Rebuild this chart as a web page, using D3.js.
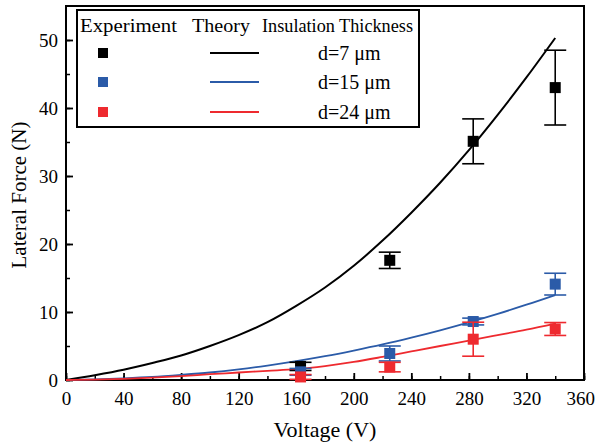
<!DOCTYPE html>
<html><head><meta charset="utf-8">
<script src="https://cdn.jsdelivr.net/npm/d3@7"></script>
<style>body{margin:0;background:#fff}svg{display:block}svg text{font-family:"Liberation Serif","Times New Roman",Times,Tinos,"Noto Serif","DejaVu Serif","FreeSerif",serif !important}</style>
</head><body><svg id="c" width="596" height="444"></svg>
<script>
const voltages = [163, 225, 283, 340];
const expD7 = [2.0, 17.6, 35.1, 43.0];
const errD7 = [0.6, 1.2, 3.3, 5.5];
const expD15 = [1.2, 3.9, 8.6, 14.1];
const errD15 = [0.5, 1.1, 0.5, 1.6];
const expD24 = [0.45, 1.9, 6.0, 7.5];
const errD24 = [0.35, 0.7, 2.5, 0.95];
const theoryV = [0, 20, 40, 60, 80, 100, 120, 140, 160, 180, 200, 220, 240, 260, 280, 300, 320, 340];
const theoryD7 = [0, 0.7, 1.5, 2.5, 3.6, 5.0, 6.6, 8.5, 10.9, 13.6, 16.8, 20.5, 24.6, 29.0, 33.8, 39.0, 44.5, 50.3];
const theoryD15 = [0, 0.1, 0.25, 0.45, 0.75, 1.1, 1.56, 2.12, 2.77, 3.5, 4.33, 5.23, 6.23, 7.31, 8.48, 9.73, 11.07, 12.5];
const theoryD24 = [0, 0.06, 0.18, 0.35, 0.58, 0.85, 1.1, 1.35, 1.6, 2.05, 2.65, 3.4, 4.2, 5.0, 5.8, 6.6, 7.4, 8.3];
const legendLabels = ["d=7 \u03bcm", "d=15 \u03bcm", "d=24 \u03bcm"];
const headers = ["Experiment", "Theory", "Insulation Thickness"];
const xTicks = [0, 40, 80, 120, 160, 200, 240, 280, 320, 360];
const yTicks = [0, 10, 20, 30, 40, 50];
const colors = ["#000000", "#2b5ba8", "#ee2a2f"];

const svg = d3.select("#c");
const L = 66, R = 584, T = 6, B = 380;
const x = d3.scaleLinear().domain([0, 360]).range([L, R]);
const y = d3.scaleLinear().domain([0, 55]).range([B, T]);

// axes ticks (inward)
const gx = svg.append("g").attr("transform", `translate(0,${B})`);
gx.call(d3.axisBottom(x).tickValues(d3.range(0, 361, 20)).tickSize(-4).tickFormat(""));
gx.selectAll(".tick line").attr("stroke-width", 1.5);
gx.select(".domain").remove();
const gx2 = svg.append("g").attr("transform", `translate(0,${B})`);
gx2.call(d3.axisBottom(x).tickValues(xTicks).tickSize(-7).tickPadding(12).tickFormat(d3.format("d")));
gx2.select(".domain").remove();
gx2.selectAll(".tick line").attr("stroke-width", 1.8);
gx2.selectAll("text").attr("font-size", 19).attr("fill", "#000");
gx2.selectAll("text").each(function () {
  const b = this.getBBox();
  const m = this.parentNode.transform.baseVal.consolidate().matrix;
  const right = m.e + b.x + b.width;
  if (right > 595) d3.select(this).attr("dx", 595 - right);
});

const gy = svg.append("g").attr("transform", `translate(${L},0)`);
gy.call(d3.axisLeft(y).tickValues(d3.range(0, 55, 5)).tickSize(-4).tickFormat(""));
gy.select(".domain").remove();
gy.selectAll(".tick line").attr("stroke-width", 1.5);
const gy2 = svg.append("g").attr("transform", `translate(${L},0)`);
gy2.call(d3.axisLeft(y).tickValues(yTicks).tickSize(-7).tickPadding(8).tickFormat(d3.format("d")));
gy2.select(".domain").remove();
gy2.selectAll(".tick line").attr("stroke-width", 1.8);
gy2.selectAll("text").attr("font-size", 19).attr("fill", "#000");

// frame
svg.append("rect").attr("x", L).attr("y", T).attr("width", R - L).attr("height", B - T)
  .attr("fill", "none").attr("stroke", "#000").attr("stroke-width", 2);

// titles
svg.append("text").attr("x", (L + R) / 2).attr("y", 437).attr("text-anchor", "middle")
  .attr("font-size", 22).text("Voltage (V)");
svg.append("text").attr("transform", `translate(26,${(T + B) / 2 + 2}) rotate(-90)`)
  .attr("text-anchor", "middle").attr("font-size", 21).text("Lateral Force (N)");

// theory lines
const line = d3.line().x((d, i) => x(theoryV[i])).y(d => y(d)).curve(d3.curveMonotoneX);
[theoryD7, theoryD15, theoryD24].forEach((s, k) => {
  svg.append("path").attr("d", line(s)).attr("fill", "none")
    .attr("stroke", colors[k]).attr("stroke-width", k === 0 ? 2 : 1.8);
});

// experiments
const series = [[expD7, errD7, 0], [expD15, errD15, 1], [expD24, errD24, 2]];
series.forEach(([vals, errs, k]) => {
  const g = svg.append("g").attr("stroke", colors[k]).attr("fill", colors[k]);
  vals.forEach((v, i) => {
    const cx = x(voltages[i]);
    const y1 = y(v + errs[i]), y2 = y(v - errs[i]);
    g.append("line").attr("x1", cx).attr("x2", cx).attr("y1", y1).attr("y2", y2).attr("stroke-width", 1.6);
    [y1, y2].forEach(yy => g.append("line").attr("x1", cx - 11).attr("x2", cx + 11)
      .attr("y1", yy).attr("y2", yy).attr("stroke-width", 1.6));
    g.append("rect").attr("x", cx - 5.5).attr("y", y(v) - 5.5).attr("width", 11).attr("height", 11).attr("stroke", "none");
  });
});

// legend
const lg = svg.append("g");
lg.append("rect").attr("x", 77).attr("y", 10).attr("width", 342).attr("height", 117)
  .attr("fill", "#fff").attr("stroke", "#000").attr("stroke-width", 2);
const hx = [80, 192, 262];
const hw = [97, 58, 151];
headers.forEach((h, i) => lg.append("text").attr("x", hx[i]).attr("y", 32).attr("font-size", 19)
  .attr("textLength", hw[i]).attr("lengthAdjust", "spacingAndGlyphs").text(h));
const rowY = [53, 82, 112];
legendLabels.forEach((lab, i) => {
  lg.append("rect").attr("x", 98).attr("y", rowY[i] - 5).attr("width", 10).attr("height", 10).attr("fill", colors[i]);
  lg.append("line").attr("x1", 210).attr("x2", 259).attr("y1", rowY[i]).attr("y2", rowY[i])
    .attr("stroke", colors[i]).attr("stroke-width", i === 0 ? 2 : 1.8);
  lg.append("text").attr("x", 318).attr("y", rowY[i] + 7).attr("font-size", 20).text(lab);
});
</script></body></html>
